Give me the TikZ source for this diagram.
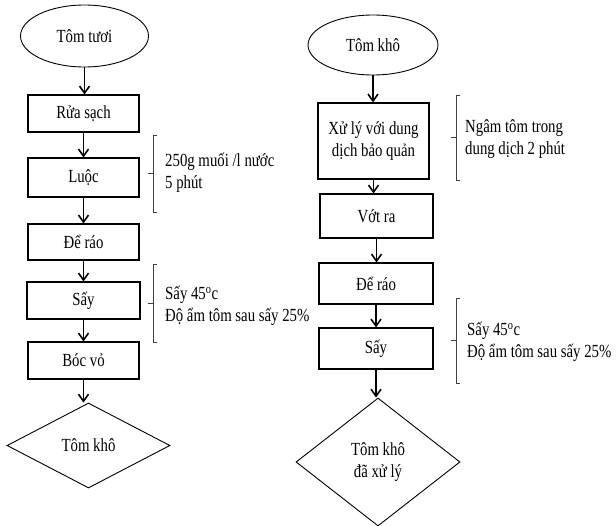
\documentclass[tikz,border=0pt]{standalone}
\usepackage{fontspec}
\setmainfont[FakeStretch=0.8]{Liberation Serif}
\usetikzlibrary{shapes.geometric,arrows.meta}
\begin{document}
\begin{tikzpicture}[x=1pt,y=-1pt,
  every node/.style={font=\fontsize{18.5}{21.5}\selectfont, inner sep=0pt},
  procbox/.style={draw, line width=1.1pt, rectangle, minimum width=#1},
  procbox/.default=111pt,
  term/.style={draw, line width=0.9pt, ellipse},
  dec/.style={draw, line width=0.9pt, diamond, align=center},
  arr/.style={line width=1.6pt, -{Straight Barb[length=7pt,width=10pt,line width=1.6pt]}},
  brk/.style={line width=0.8pt, black!75},
  note/.style={anchor=west, align=left}
]
\useasboundingbox (0,0) rectangle (616,525);

% left column
\node[term, minimum width=128pt, minimum height=62pt] (t1) at (84.5,36) {Tôm tươi};
\node[procbox, minimum height=37pt] (rua) at (83.5,113.5) {Rửa sạch};
\node[procbox, minimum height=39pt] (luoc) at (83.5,177.5) {Luộc};
\node[procbox, minimum height=36pt] (dr1) at (83.5,242) {Để ráo};
\node[procbox=113pt, minimum height=37pt] (say1) at (83.5,300.5) {Sấy};
\node[procbox, minimum height=37pt] (boc) at (83.5,360.5) {Bóc vỏ};
\node[dec, minimum width=163pt, minimum height=85pt] (k1) at (88.5,445.5) {Tôm khô};

\draw[arr] (t1.south) -- (t1.south |- rua.north);
\draw[arr] (rua.south) -- (rua.south |- luoc.north);
\draw[arr] (luoc.south) -- (luoc.south |- dr1.north);
\draw[arr] (dr1.south) -- (dr1.south |- say1.north);
\draw[arr] (say1.south) -- (say1.south |- boc.north);
\draw[arr] (boc.south) -- (boc.south |- k1.north);

% left notes
\draw[brk] (157,135) -- (153,135) -- (153,212) -- (157,212);
\draw[brk] (153,173) -- (148,173);
\node[note] (n1) at (165,173) {250g muối /l nước\\5 phút};
\draw[brk] (157,264) -- (153,264) -- (153,342) -- (157,342);
\draw[brk] (153,303) -- (148,303);
\node[note] (n2) at (165,306) {Sấy 45\textsuperscript{o}c\\Độ ẩm tôm sau sấy 25\%};

% right column
\node[term, minimum width=130pt, minimum height=60pt] (t2) at (373,45) {Tôm khô};
\node[procbox, minimum height=76pt, align=center] (xl) at (373.5,141) {Xử lý với dung\\dịch bảo quản};
\node[procbox=113pt, minimum height=44pt] (vot) at (376.5,216) {Vớt ra};
\node[procbox=114pt, minimum height=41pt] (dr2) at (376,283.5) {Để ráo};
\node[procbox=114pt, minimum height=41pt] (say2) at (376,348.5) {Sấy};
\node[dec, minimum width=164pt, minimum height=128pt] (k2) at (378,462) {Tôm khô\\đã xử lý};

\draw[arr] (t2.south) -- (t2.south |- xl.north);
\draw[arr] (xl.south) -- (xl.south |- vot.north);
\draw[arr] (vot.south) -- (vot.south |- dr2.north);
\draw[arr] (dr2.south) -- (dr2.south |- say2.north);
\draw[arr] (say2.south) -- (say2.south |- k2.north);

% right notes
\draw[brk] (460,95) -- (456,95) -- (456,180) -- (460,180);
\draw[brk] (456,137) -- (451,137);
\node[note] (n3) at (465,139) {Ngâm tôm trong\\dung dịch 2 phút};
\draw[brk] (460,298) -- (456,298) -- (456,383) -- (460,383);
\draw[brk] (456,340) -- (451,340);
\node[note] (n4) at (467,342) {Sấy 45\textsuperscript{o}c\\Độ ẩm tôm sau sấy 25\%};
\end{tikzpicture}
\end{document}
